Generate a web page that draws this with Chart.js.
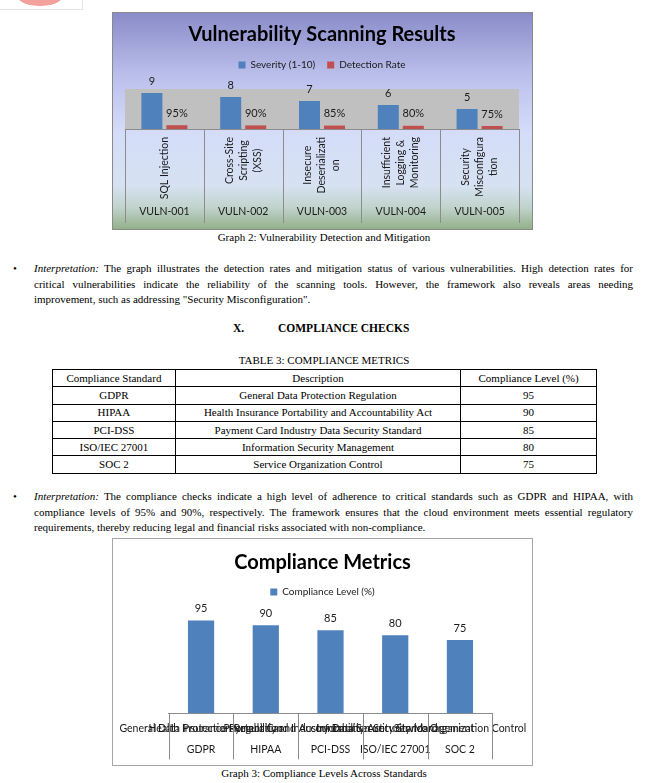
<!DOCTYPE html>
<html>
<head>
<meta charset="utf-8">
<script src="https://cdn.jsdelivr.net/npm/chart.js@4.4.1/dist/chart.umd.min.js"></script>
<style>
body{margin:0;width:648px;height:783px;position:relative;background:#fff;overflow:hidden;
  font-family:"Liberation Serif","Times New Roman",serif;color:#000}
.abs{position:absolute}
.cap{position:absolute;left:0;width:648px;text-align:center;font-size:11px;line-height:15px}
.para{position:absolute;left:34px;width:599px;font-size:11px;line-height:15.5px}
.para div{white-space:nowrap;text-align:justify;text-align-last:justify}
.para div.last{text-align-last:left}
.bullet{position:absolute;left:13px;font-size:11px;line-height:15.5px}
.box{position:absolute;border:1px solid #8a8a8a}
.box canvas{display:block}
table{position:absolute;left:52px;top:369px;width:545px;border-collapse:collapse;font-size:11px}
td{border:1px solid #000;text-align:center;padding:0;height:16.3px;line-height:15px}
</style>
</head>
<body>

<div class="abs" style="left:-1px;top:-1px;width:82px;height:9px;border:1px solid #e4e4e4"></div>
<div class="abs" style="left:18px;top:-13px;width:44px;height:19px;border-radius:50%;background:#f3a19d"></div>

<div class="box" style="left:112px;top:12px"><canvas id="vulnChart" width="419" height="216"></canvas></div>
<div class="cap" style="top:229.5px">Graph 2: Vulnerability Detection and Mitigation</div>

<div class="bullet" style="top:261px">&bull;</div>
<div class="para" style="top:261px">
  <div><i>Interpretation:</i> The graph illustrates the detection rates and mitigation status of various vulnerabilities. High detection rates for</div>
  <div>critical vulnerabilities indicate the reliability of the scanning tools. However, the framework also reveals areas needing</div>
  <div class="last">improvement, such as addressing "Security Misconfiguration".</div>
</div>

<div class="abs" style="left:233px;top:321px;font-size:11.5px;font-weight:bold;line-height:15px">X.</div>
<div class="abs" style="left:278px;top:321px;font-size:11.5px;font-weight:bold;line-height:15px">COMPLIANCE CHECKS</div>

<div class="cap" style="top:352.5px">TABLE 3: COMPLIANCE METRICS</div>
<table id="metricsTable">
  <colgroup><col style="width:123px"><col style="width:286px"><col style="width:136px"></colgroup>
  <tbody></tbody>
</table>

<div class="bullet" style="top:489px">&bull;</div>
<div class="para" style="top:489px">
  <div><i>Interpretation:</i> The compliance checks indicate a high level of adherence to critical standards such as GDPR and HIPAA, with</div>
  <div>compliance levels of 95% and 90%, respectively. The framework ensures that the cloud environment meets essential regulatory</div>
  <div class="last">requirements, thereby reducing legal and financial risks associated with non-compliance.</div>
</div>

<div class="box" style="left:112px;top:538px;border-color:#a6a6a6"><canvas id="complianceChart" width="419" height="226"></canvas></div>
<div class="cap" style="top:765.5px">Graph 3: Compliance Levels Across Standards</div>

<script>
// chart 1 data
const vulnIds = ["VULN-001", "VULN-002", "VULN-003", "VULN-004", "VULN-005"];
const vulnNames = [
  ["SQL Injection"],
  ["Cross-Site", "Scripting", "(XSS)"],
  ["Insecure", "Deserializati", "on"],
  ["Insufficient", "Logging &", "Monitoring"],
  ["Security", "Misconfigura", "tion"]
];
const severity = [9, 8, 7, 6, 5];
const detectionRate = [0.95, 0.90, 0.85, 0.80, 0.75];

// table 3 / chart 2 data
const standards = ["GDPR", "HIPAA", "PCI-DSS", "ISO/IEC 27001", "SOC 2"];
const descriptions = [
  "General Data Protection Regulation",
  "Health Insurance Portability and Accountability Act",
  "Payment Card Industry Data Security Standard",
  "Information Security Management",
  "Service Organization Control"
];
const complianceLevel = [95, 90, 85, 80, 75];

const BLUE = "#4f81bd";
const RED = "#c0504d";
const TEXT = "#1a1a1a";

//*****Table*****//
const tbody = document.querySelector("#metricsTable tbody");
const head = document.createElement("tr");
["Compliance Standard", "Description", "Compliance Level (%)"].forEach(t => {
  const td = document.createElement("td");
  td.textContent = t;
  head.append(td);
});
tbody.append(head);
standards.forEach((s, i) => {
  const tr = document.createElement("tr");
  [s, descriptions[i], complianceLevel[i]].forEach(t => {
    const td = document.createElement("td");
    td.textContent = t;
    tr.append(td);
  });
  tbody.append(tr);
});

Chart.defaults.font.family = "Lato, 'Open Sans', sans-serif";
Chart.defaults.color = TEXT;

//*****Plugins*****//

// value printed above each bar
const barValueLabels = {
  id: "barValueLabels",
  afterDatasetsDraw(chart) {
    const ctx = chart.ctx;
    ctx.save();
    ctx.font = "11px Lato";
    ctx.fillStyle = TEXT;
    ctx.textAlign = "center";
    ctx.textBaseline = "middle";
    chart.data.datasets.forEach((ds, di) => {
      chart.getDatasetMeta(di).data.forEach((bar, i) => {
        const v = ds.data[i];
        const txt = ds.percent ? Math.round(v * 100) + "%" : String(v);
        ctx.fillText(txt, bar.x, bar.y - 12);
      });
    });
    ctx.restore();
  }
};

// vertical lines between categories, under the axis
const categoryDividers = {
  id: "categoryDividers",
  afterDraw(chart, args, opts) {
    const x = chart.scales.x;
    const n = chart.data.labels.length;
    const half = (x.getPixelForValue(1) - x.getPixelForValue(0)) / 2;
    const ctx = chart.ctx;
    const top = chart.chartArea.bottom;
    ctx.save();
    ctx.strokeStyle = opts.color;
    ctx.lineWidth = 1;
    ctx.beginPath();
    for (let i = 0; i <= n; i++) {
      const px = Math.round(i < n ? x.getPixelForValue(i) - half : x.getPixelForValue(n - 1) + half) + 0.5;
      ctx.moveTo(px, top);
      ctx.lineTo(px, top + opts.depth);
    }
    ctx.stroke();
    ctx.restore();
  }
};

// gradient chart background + grey plot area
const vulnBackground = {
  id: "vulnBackground",
  beforeDraw(chart) {
    const {ctx, width, height, chartArea} = chart;
    const g = ctx.createLinearGradient(0, 0, 0, height);
    g.addColorStop(0, "#8a8cc9");
    g.addColorStop(0.3, "#bcc1ec");
    g.addColorStop(0.55, "#d4dcf8");
    g.addColorStop(0.8, "#d6e2f2");
    g.addColorStop(0.9, "#c1d3cc");
    g.addColorStop(1, "#93b08a");
    ctx.save();
    ctx.fillStyle = g;
    ctx.fillRect(0, 0, width, height);
    ctx.fillStyle = "#c0c0c0";
    ctx.fillRect(chartArea.left, chartArea.top, chartArea.width, chartArea.height);
    ctx.restore();
  }
};

// rotated vulnerability names (first level of the category axis)
const rotatedNames = {
  id: "rotatedNames",
  afterDraw(chart) {
    const x = chart.scales.x;
    const ctx = chart.ctx;
    const lineH = 14;
    ctx.save();
    ctx.font = "10.5px Lato";
    ctx.fillStyle = TEXT;
    ctx.textAlign = "center";
    ctx.textBaseline = "middle";
    vulnNames.forEach((lines, i) => {
      const cx = x.getPixelForValue(i);
      const longest = Math.max(...lines.map(l => ctx.measureText(l).width));
      const cy = chart.chartArea.bottom + 8 + longest / 2;
      lines.forEach((line, j) => {
        ctx.save();
        ctx.translate(cx + (j - (lines.length - 1) / 2) * lineH, cy);
        ctx.rotate(-Math.PI / 2);
        ctx.fillText(line, 0, 0);
        ctx.restore();
      });
    });
    ctx.restore();
  }
};

//*****Graph 2*****//
new Chart(document.getElementById("vulnChart"), {
  type: "bar",
  data: {
    labels: vulnIds,
    datasets: [
      { label: "Severity (1-10)", data: severity, backgroundColor: BLUE, borderWidth: 0,
        categoryPercentage: 0.635, barPercentage: 0.84 },
      { label: "Detection Rate", data: detectionRate, backgroundColor: RED, borderWidth: 0,
        categoryPercentage: 0.635, barPercentage: 0.84, percent: true }
    ]
  },
  options: {
    responsive: false,
    animation: false,
    devicePixelRatio: 1,
    layout: { padding: { left: 12, right: 13, top: 0, bottom: 0 } },
    plugins: {
      title: { display: true, text: "Vulnerability Scanning Results", color: "#000",
        font: { size: 20, weight: "bold" }, padding: { top: 10, bottom: 1 } },
      legend: { labels: { boxWidth: 7, boxHeight: 7, font: { size: 10 }, color: TEXT, padding: 12 } },
      tooltip: { enabled: false },
      categoryDividers: { color: "#8c8c8c", depth: 94 }
    },
    scales: {
      x: {
        grid: { display: false, drawTicks: false },
        border: { color: "#8c8c8c" },
        ticks: { padding: 76.7, font: { size: 10.5 }, color: TEXT, maxRotation: 0, minRotation: 0, autoSkip: false },
        afterFit(s) { s.height = 100; s.paddingLeft = 0; s.paddingRight = 0; }
      },
      spacer: {
        type: "category", position: "top",
        ticks: { display: false }, grid: { display: false, drawTicks: false }, border: { display: false },
        afterFit(s) { s.height = 9; s.paddingLeft = 0; s.paddingRight = 0; }
      },
      y: { display: false, min: 0, max: 10 }
    }
  },
  plugins: [vulnBackground, barValueLabels, categoryDividers, rotatedNames]
});

//*****Graph 3*****//
new Chart(document.getElementById("complianceChart"), {
  type: "bar",
  data: {
    labels: standards,
    datasets: [
      { label: "Compliance Level (%)", data: complianceLevel, backgroundColor: BLUE, borderWidth: 0,
        categoryPercentage: 0.5, barPercentage: 0.81 }
    ]
  },
  options: {
    responsive: false,
    animation: false,
    devicePixelRatio: 1,
    plugins: {
      title: { display: true, text: "Compliance Metrics", color: "#000",
        font: { size: 20, weight: "bold" }, padding: { top: 12, bottom: 0 } },
      legend: { labels: { boxWidth: 7, boxHeight: 7, font: { size: 10 }, color: TEXT, padding: 12 } },
      tooltip: { enabled: false },
      categoryDividers: { color: "#8c8c8c", depth: 46 }
    },
    scales: {
      x: {
        grid: { display: false, drawTicks: false },
        border: { color: "#8c8c8c" },
        ticks: {
          padding: 5.2, font: { size: 10.5, lineHeight: 2 }, color: TEXT,
          maxRotation: 0, minRotation: 0, autoSkip: false,
          callback: (v, i) => [descriptions[i], standards[i]]
        },
        afterFit(s) { s.height = 51.7; s.paddingLeft = 0; s.paddingRight = 0; }
      },
      spacer: {
        type: "category", position: "top",
        ticks: { display: false }, grid: { display: false, drawTicks: false }, border: { display: false },
        afterFit(s) { s.height = 8.6; s.paddingLeft = 0; s.paddingRight = 0; }
      },
      y: {
        min: 0, max: 100,
        ticks: { display: false }, grid: { display: false, drawTicks: false }, border: { display: false },
        afterFit(s) { s.width = 55.7; }
      },
      yRight: {
        position: "right",
        ticks: { display: false }, grid: { display: false, drawTicks: false }, border: { display: false },
        afterFit(s) { s.width = 39.7; }
      }
    }
  },
  plugins: [barValueLabels, categoryDividers]
});
</script>
</body>
</html>
